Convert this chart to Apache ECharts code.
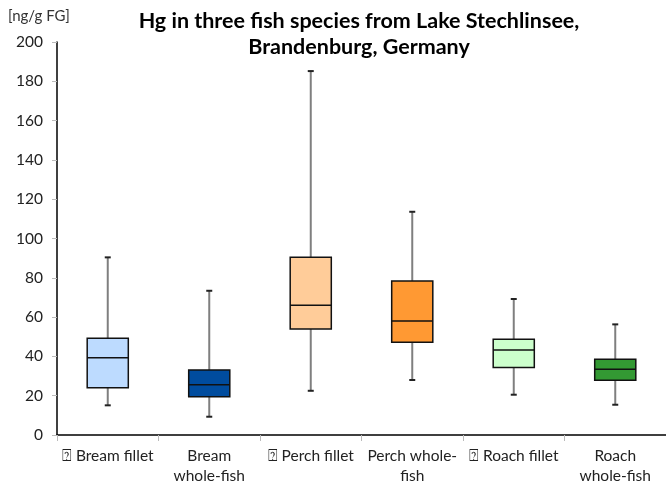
<!DOCTYPE html>
<html>
<head>
<meta charset="utf-8">
<script src="https://cdn.jsdelivr.net/npm/echarts@6/dist/echarts.min.js"></script>
<style>html,body{margin:0;padding:0;background:#fff}#c{width:666px;height:488px}</style>
</head>
<body>
<div id="c"></div>
<script>
const categories = ['\u2370 Bream fillet', 'Bream\nwhole-fish', '\u2370 Perch fillet', 'Perch whole-\nfish', '\u2370 Roach fillet', 'Roach\nwhole-fish'];
const minVals = [15.1, 9.3, 22.5, 28.0, 20.5, 15.4];
const q1Vals  = [24.1, 19.5, 53.9, 47.2, 34.3, 27.8];
const medVals = [39.3, 25.6, 66.0, 58.0, 43.3, 33.4];
const q3Vals  = [49.2, 33.1, 90.4, 78.4, 48.7, 38.5];
const maxVals = [90.4, 73.4, 185.2, 113.6, 69.2, 56.3];
const yTicks = [0, 20, 40, 60, 80, 100, 120, 140, 160, 180, 200];
const boxColors = ['#BDDBFF', '#004C9E', '#FFCC99', '#FF9933', '#CCFFCC', '#339933'];

const FONT = 'Lato, "Open Sans", sans-serif';
const data = categories.map((c, i) => [i, minVals[i], q1Vals[i], medVals[i], q3Vals[i], maxVals[i]]);

const chart = echarts.init(document.getElementById('c'), null, {renderer: 'canvas'});
chart.setOption({
  animation: false,
  backgroundColor: '#fff',
  title: {
    text: 'Hg in three fish species from Lake Stechlinsee,\nBrandenburg, Germany',
    left: 354, top: 3, textAlign: 'center',
    textStyle: {fontFamily: FONT, fontSize: 21.5, fontWeight: 'bold', color: '#000', lineHeight: 26}
  },
  graphic: [{
    type: 'text', left: 8, top: 9,
    style: {text: '[ng/g FG]', font: '15px ' + FONT, fill: '#333'}
  }],
  grid: {left: 57, right: 0, top: 42, bottom: 53, containLabel: false},
  xAxis: {
    type: 'category', data: categories, boundaryGap: true,
    axisLine: {lineStyle: {color: '#000', width: 1.5}},
    axisTick: {show: true, length: 6, lineStyle: {color: '#bbb'}},
    axisLabel: {interval: 0, fontFamily: FONT, fontSize: 15.5, color: '#222', lineHeight: 20, margin: 11}
  },
  yAxis: {
    type: 'value', min: yTicks[0], max: yTicks[yTicks.length - 1], interval: yTicks[1] - yTicks[0],
    axisLine: {show: true, lineStyle: {color: '#000', width: 1.5}},
    axisTick: {show: true, length: 5, lineStyle: {color: '#bbb'}},
    splitLine: {show: false},
    axisLabel: {fontFamily: FONT, fontSize: 15.5, color: '#222', margin: 14}
  },
  series: [{
    type: 'custom',
    data: data,
    encode: {x: 0, y: [1, 2, 3, 4, 5]},
    renderItem: function (params, api) {
      const i = api.value(0);
      const pMin = api.coord([i, api.value(1)]);
      const pQ1 = api.coord([i, api.value(2)]);
      const pMed = api.coord([i, api.value(3)]);
      const pQ3 = api.coord([i, api.value(4)]);
      const pMax = api.coord([i, api.value(5)]);
      const bw = api.size([1, 0])[0] * 0.405;
      const x = pMed[0];
      const capW = 3;
      return {
        type: 'group',
        children: [
          {type: 'line', shape: {x1: x, y1: pMax[1], x2: x, y2: pQ3[1]}, style: {stroke: '#7f7f7f', lineWidth: 2}},
          {type: 'line', shape: {x1: x, y1: pQ1[1], x2: x, y2: pMin[1]}, style: {stroke: '#7f7f7f', lineWidth: 2}},
          {type: 'line', shape: {x1: x - capW, y1: pMax[1], x2: x + capW, y2: pMax[1]}, style: {stroke: '#222', lineWidth: 2}},
          {type: 'line', shape: {x1: x - capW, y1: pMin[1], x2: x + capW, y2: pMin[1]}, style: {stroke: '#222', lineWidth: 2}},
          {type: 'rect', shape: {x: x - bw / 2, y: pQ3[1], width: bw, height: pQ1[1] - pQ3[1]},
            style: {fill: boxColors[i], stroke: '#111', lineWidth: 1.5}},
          {type: 'line', shape: {x1: x - bw / 2, y1: pMed[1], x2: x + bw / 2, y2: pMed[1]}, style: {stroke: '#111', lineWidth: 1.5}}
        ]
      };
    }
  }]
});
</script>
</body>
</html>
